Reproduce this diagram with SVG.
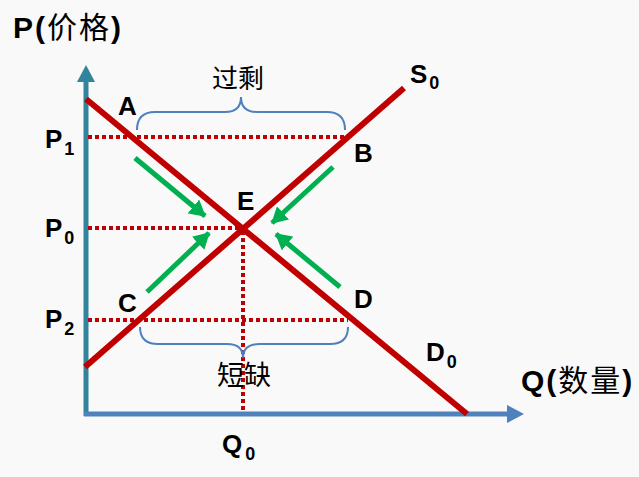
<svg xmlns="http://www.w3.org/2000/svg" width="639" height="477" viewBox="0 0 639 477">
<defs>
<style>
.lat{font-family:"Liberation Sans",Arial,sans-serif;font-weight:bold;fill:#000}
.cjk{font-family:"Noto Sans CJK SC","Liberation Sans",sans-serif;font-weight:normal;fill:#000}
.curve{stroke:#C00000;stroke-width:6;fill:none}
.dot{stroke:#C00000;stroke-width:4;stroke-dasharray:4 3;fill:none}
.brace{stroke:#4F81BD;stroke-width:2;fill:none}
.garrow{stroke:#00B050;stroke-width:5;fill:none;marker-end:url(#gh)}
</style>
<marker id="gh" markerUnits="userSpaceOnUse" viewBox="0 0 16 18" refX="15" refY="9" markerWidth="16" markerHeight="18" orient="auto">
<path d="M0,0 L16,9 L0,18 Z" fill="#00B050"/>
</marker>
</defs>
<rect width="639" height="477" fill="#F9F9F9"/>

<g id="axes">
<line x1="86" y1="416" x2="86" y2="80" stroke="#31849B" stroke-width="5"/>
<path d="M77,82 L86,65 L95,82 Z" fill="#31849B"/>
<line x1="84" y1="414" x2="508" y2="414" stroke="#4F81BD" stroke-width="5"/>
<path d="M507,405 L524,414 L507,423 Z" fill="#4F81BD"/>
</g>

<g id="guides">
<line class="dot" x1="88" y1="137" x2="346" y2="137"/>
<line class="dot" x1="88" y1="228" x2="243" y2="228"/>
<line class="dot" x1="88" y1="320" x2="348" y2="320"/>
<line class="dot" x1="243" y1="231" x2="243" y2="412"/>
</g>

<g id="demand"><line class="curve" x1="86" y1="99" x2="467" y2="414"/></g>
<g id="supply"><line class="curve" x1="85" y1="367" x2="404" y2="88"/></g>

<g id="surplus-brace"><path class="brace" d="M137,130 Q137,112 155,112 L225,112 Q241,112 241,97 Q241,112 257,112 L327,112 Q345,112 345,130"/></g>
<g id="shortage-brace"><path class="brace" d="M140,327 Q140,344 158,344 L227,344 Q243,344 243,358 Q243,344 259,344 L330,344 Q348,344 348,327"/></g>

<g id="connectors">
<line class="garrow" x1="135" y1="158" x2="205" y2="216"/>
<line class="garrow" x1="333" y1="167" x2="272" y2="223"/>
<line class="garrow" x1="147" y1="292" x2="209" y2="233"/>
<line class="garrow" x1="340" y1="287" x2="276" y2="234"/>
</g>

<g id="labels">
<text x="13" y="38" font-size="30" letter-spacing="2"><tspan class="lat">P(</tspan><tspan class="cjk">价格</tspan><tspan class="lat">)</tspan></text>
<text x="521" y="391" font-size="30" letter-spacing="2"><tspan class="lat">Q(</tspan><tspan class="cjk">数量</tspan><tspan class="lat">)</tspan></text>
<text class="cjk" x="238" y="88" font-size="26" text-anchor="middle">过剩</text>
<text class="cjk" x="244" y="385" font-size="27" text-anchor="middle">短缺</text>
<text class="lat" x="118" y="115" font-size="26">A</text>
<text class="lat" x="354" y="162" font-size="26">B</text>
<text class="lat" x="118" y="312" font-size="26">C</text>
<text class="lat" x="354" y="308" font-size="26">D</text>
<text class="lat" x="237" y="210" font-size="26">E</text>
<text class="lat" x="45" y="148" font-size="26">P<tspan font-size="18" dx="2" dy="7">1</tspan></text>
<text class="lat" x="45" y="237" font-size="26">P<tspan font-size="18" dx="2" dy="7">0</tspan></text>
<text class="lat" x="45" y="328" font-size="26">P<tspan font-size="18" dx="2" dy="7">2</tspan></text>
<text class="lat" x="222" y="453" font-size="26">Q<tspan font-size="18" dx="3" dy="7">0</tspan></text>
<text class="lat" x="410" y="83" font-size="26">S<tspan font-size="18" dx="2" dy="6">0</tspan></text>
<text class="lat" x="426" y="361" font-size="26">D<tspan font-size="18" dx="2" dy="7">0</tspan></text>
</g>
</svg>
